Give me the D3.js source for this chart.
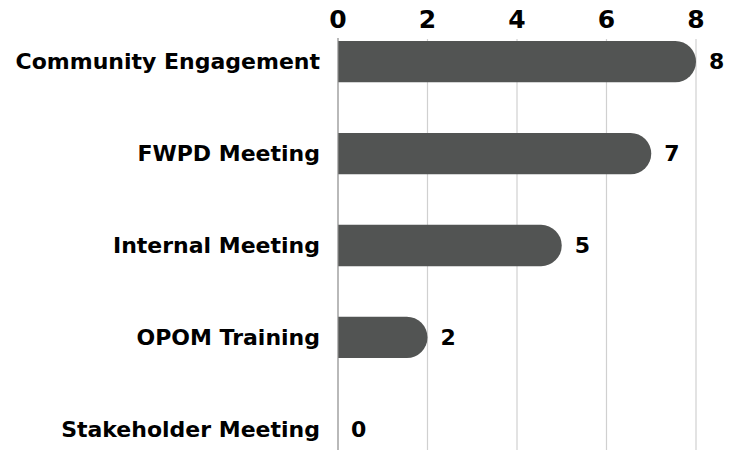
<!DOCTYPE html>
<html>
<head>
<meta charset="utf-8">
<script src="https://cdn.jsdelivr.net/npm/d3@7"></script>
<style>
  body { margin: 0; background: #fff; }
  text { font-family: "DejaVu Sans", sans-serif; font-weight: 700; fill: #000; }
</style>
</head>
<body>
<svg id="chart"></svg>
<script>
const categories = ["Community Engagement", "FWPD Meeting", "Internal Meeting", "OPOM Training", "Stakeholder Meeting"];
const counts = [8, 7, 5, 2, 0];
const tickValues = [0, 2, 4, 6, 8];

const width = 742, height = 450;

const svg = d3.select("#chart")
    .attr("width", width)
    .attr("height", height);

const x = d3.scaleLinear()
    .domain([0, 8])
    .range([338, 696]);

const y = d3.scaleBand()
    .domain(categories)
    .range([-5, 496])
    .paddingInner(0.55)
    .paddingOuter(0.5);

const data = categories.map((c, i) => ({ cat: c, val: counts[i] }));

// gridlines
svg.append("g")
    .selectAll("line")
    .data(tickValues.filter(d => d > 0))
    .join("line")
        .attr("x1", d => x(d))
        .attr("x2", d => x(d))
        .attr("y1", 39)
        .attr("y2", height)
        .attr("stroke", "#d0d0d0")
        .attr("stroke-width", 1.2);

// top axis labels
svg.append("g")
    .selectAll("text")
    .data(tickValues)
    .join("text")
        .attr("x", d => x(d))
        .attr("y", 28)
        .attr("text-anchor", "middle")
        .style("font-size", "25px")
        .text(d => d);

// bars with rounded right end
const r = y.bandwidth() / 2;
svg.append("g")
    .selectAll("path")
    .data(data.filter(d => d.val > 0))
    .join("path")
        .attr("fill", "#525453")
        .attr("d", d => {
            const x0 = x(0), x1 = x(d.val), y0 = y(d.cat), h = y.bandwidth();
            return `M${x0},${y0}H${x1 - r}A${r},${r} 0 0 1 ${x1 - r},${y0 + h}H${x0}Z`;
        });

// zero line
svg.append("line")
    .attr("x1", x(0)).attr("x2", x(0))
    .attr("y1", 38).attr("y2", height)
    .attr("stroke", "#8a8a8a")
    .attr("stroke-width", 1.2);

// category labels
svg.append("g")
    .selectAll("text")
    .data(data)
    .join("text")
        .attr("x", 320)
        .attr("y", d => y(d.cat) + y.bandwidth() / 2)
        .attr("dy", "0.35em")
        .attr("text-anchor", "end")
        .style("font-size", "22px")
        .text(d => d.cat);

// value labels
svg.append("g")
    .selectAll("text")
    .data(data)
    .join("text")
        .attr("x", d => x(d.val) + 13)
        .attr("y", d => y(d.cat) + y.bandwidth() / 2)
        .attr("dy", "0.35em")
        .style("font-size", "22px")
        .text(d => d.val);
</script>
</body>
</html>
